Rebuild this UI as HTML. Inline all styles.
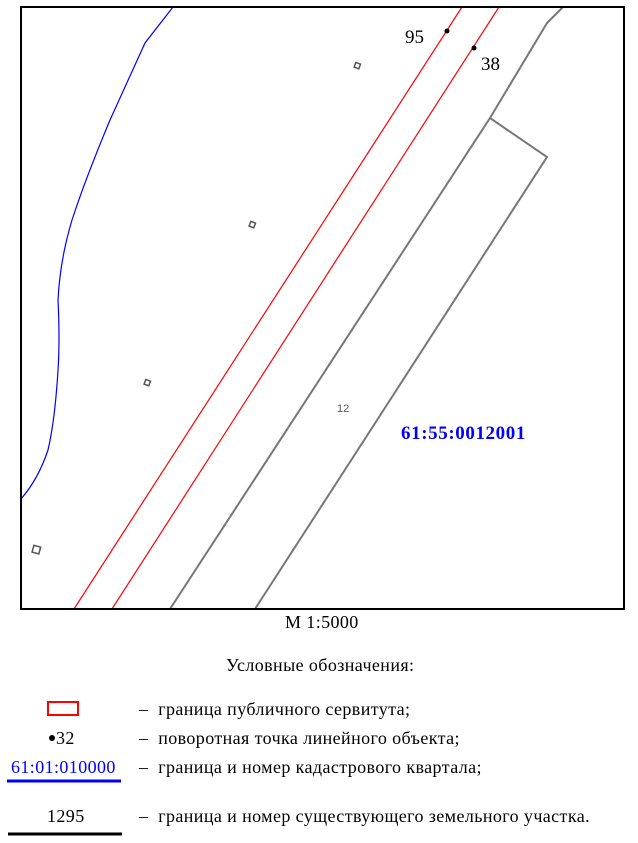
<!DOCTYPE html>
<html><head><meta charset="utf-8"><style>
body{margin:0;width:638px;height:843px;background:#fff;font-family:"Liberation Serif",serif;}
.t{position:absolute;font-size:18px;letter-spacing:0.4px;color:#000;white-space:nowrap;line-height:1;}
</style></head><body>
<svg width="638" height="843" style="position:absolute;left:0;top:0">
<defs><clipPath id="c"><rect x="21" y="7" width="603" height="602"/></clipPath></defs>
<g clip-path="url(#c)" fill="none">
<path d="M173,7 L145,43 L110,120 Q85,180 72,220 Q60,260 58,300 Q60,340 58,370 Q55,420 48,450 Q38,480 20,500" stroke="#0000ff" stroke-width="1.2"/>
<line x1="74" y1="609" x2="462" y2="7" stroke="#ff0000" stroke-width="1.2"/>
<line x1="112" y1="609" x2="499" y2="7" stroke="#ff0000" stroke-width="1.2"/>
<polyline points="170,609 490,118 547,23 563,7" stroke="#777" stroke-width="2"/>
<polyline points="490,118 547,157 255,609" stroke="#777" stroke-width="2"/>
<g stroke="#555" stroke-width="1.5">
<rect x="355" y="63" width="5" height="5" transform="rotate(20 357 65)"/>
<rect x="250" y="222" width="5" height="5" transform="rotate(20 252 224)"/>
<rect x="145" y="380" width="5" height="5" transform="rotate(20 147 382)"/>
<rect x="33" y="546" width="7" height="7" transform="rotate(15 36 549)"/>
</g>
<circle cx="447" cy="31" r="2.5" fill="#000"/>
<circle cx="474" cy="48" r="2.5" fill="#000"/>
</g>
<rect x="21" y="7" width="603" height="602" fill="none" stroke="#000" stroke-width="2"/>
<text x="405" y="43" font-family="Liberation Serif" font-size="19">95</text>
<text x="481" y="70" font-family="Liberation Serif" font-size="19">38</text>
<text x="337" y="412" font-family="Liberation Sans" font-size="11" fill="#555">12</text>
<text x="401" y="439" font-family="Liberation Serif" font-size="19" font-weight="bold" letter-spacing="0.6" fill="#0000ff">61:55:0012001</text>
<rect x="48" y="702" width="30" height="13" fill="none" stroke="#ff0000" stroke-width="2"/>
<circle cx="52" cy="738" r="3" fill="#000"/>
<line x1="7" y1="781" x2="121" y2="781" stroke="#0000ff" stroke-width="3"/>
<line x1="8" y1="834" x2="122" y2="834" stroke="#000" stroke-width="3"/>
</svg>
<div class="t" style="left:285px;top:613px">М 1:5000</div>
<div class="t" style="left:226px;top:656px">Условные обозначения:</div>
<div class="t" style="left:56px;top:729px">32</div>
<div class="t" style="left:11px;top:758px;color:#0000ff">61:01:010000</div>
<div class="t" style="left:47px;top:807px">1295</div>
<div class="t" style="left:139px;top:700px">–&nbsp;&nbsp;граница публичного сервитута;</div>
<div class="t" style="left:139px;top:729px">–&nbsp;&nbsp;поворотная точка линейного объекта;</div>
<div class="t" style="left:139px;top:758px">–&nbsp;&nbsp;граница и номер кадастрового квартала;</div>
<div class="t" style="left:139px;top:807px">–&nbsp;&nbsp;граница и номер существующего земельного участка.</div>
</body></html>
